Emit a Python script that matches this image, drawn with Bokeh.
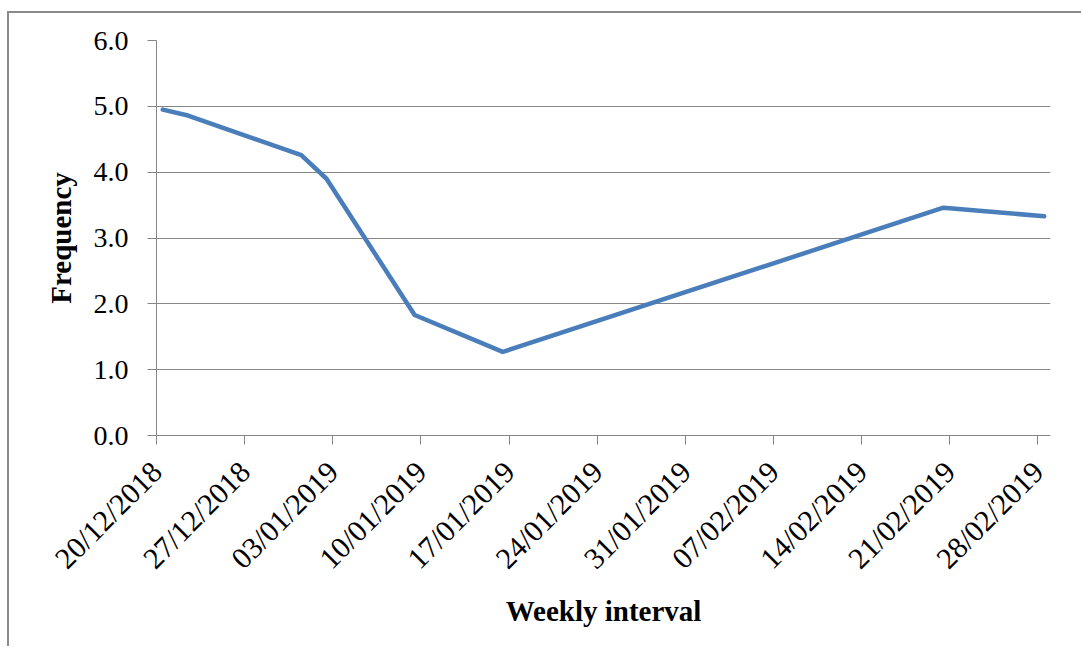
import pandas as pd
from bokeh.plotting import figure
from bokeh.models import FixedTicker, DatetimeTickFormatter, Range1d, NumeralTickFormatter
from bokeh.embed import file_html
from bokeh.resources import INLINE
import math

# Data
dates = ["2018-12-20", "2018-12-22", "2018-12-31", "2019-01-02",
         "2019-01-09", "2019-01-16", "2019-02-20", "2019-02-28"]
frequency = [4.95, 4.86, 4.26, 3.90, 1.83, 1.27, 3.46, 3.33]
tick_dates = ["2018-12-20", "2018-12-27", "2019-01-03", "2019-01-10",
              "2019-01-17", "2019-01-24", "2019-01-31", "2019-02-07",
              "2019-02-14", "2019-02-21", "2019-02-28"]
y_ticks = [0, 1, 2, 3, 4, 5, 6]

# each day is a category slot; points sit in the middle of their day
x = pd.to_datetime(dates) + pd.Timedelta(hours=12)
ticks_ms = [pd.Timestamp(d).value / 1e6 for d in tick_dates]

p = figure(width=1074, height=635, output_backend="svg", toolbar_location=None,
           x_axis_type="datetime",
           x_range=Range1d(pd.Timestamp("2018-12-20"), pd.Timestamp("2019-03-01")),
           y_range=Range1d(0, 6),
           min_border_left=147, min_border_right=33, min_border_top=27,
           min_border_bottom=213,
           styles={"border-left": "2px solid #8a8a8a", "border-top": "2px solid #8a8a8a",
                   "margin-top": "11px", "margin-left": "7px"})

p.line(x, frequency, line_color="#4a7ebb", line_width=4.5, line_join="round",
       line_cap="round")

grey = "#868686"
p.outline_line_color = None
p.xgrid.grid_line_color = None
p.ygrid.grid_line_color = grey
p.ygrid.grid_line_width = 1

p.xaxis.ticker = FixedTicker(ticks=ticks_ms)
fmt = "%d/%m/%Y"
p.xaxis.formatter = DatetimeTickFormatter(days=fmt, months=fmt, years=fmt, hours=fmt,
                                          minutes=fmt, seconds=fmt, milliseconds=fmt,
                                          minsec=fmt, hourmin=fmt)
p.xaxis.major_label_orientation = math.pi / 4
p.yaxis.ticker = FixedTicker(ticks=y_ticks)
p.yaxis.formatter = NumeralTickFormatter(format="0.0")

serif = "Liberation Serif"
for ax in [p.xaxis[0], p.yaxis[0]]:
    ax.axis_line_color = grey
    ax.major_tick_line_color = grey
    ax.major_tick_out = 9
    ax.major_tick_in = 0
    ax.minor_tick_line_color = None
    ax.major_label_text_font = serif
    ax.major_label_text_font_size = "28px"
    ax.major_label_text_color = "#000000"
    ax.axis_label_text_font = serif
    ax.axis_label_text_font_style = "bold"
    ax.axis_label_text_font_size = "29px"
    ax.axis_label_text_color = "#000000"

p.xaxis[0].major_label_text_font_size = "30px"
p.xaxis[0].axis_label = "Weekly interval"
p.yaxis[0].axis_label = "Frequency"
p.xaxis[0].major_label_standoff = 22
p.yaxis[0].major_label_standoff = 19
p.xaxis[0].axis_label_standoff = 6
p.yaxis[0].axis_label_standoff = 14

open("out.html", "w").write(file_html(p, INLINE))
